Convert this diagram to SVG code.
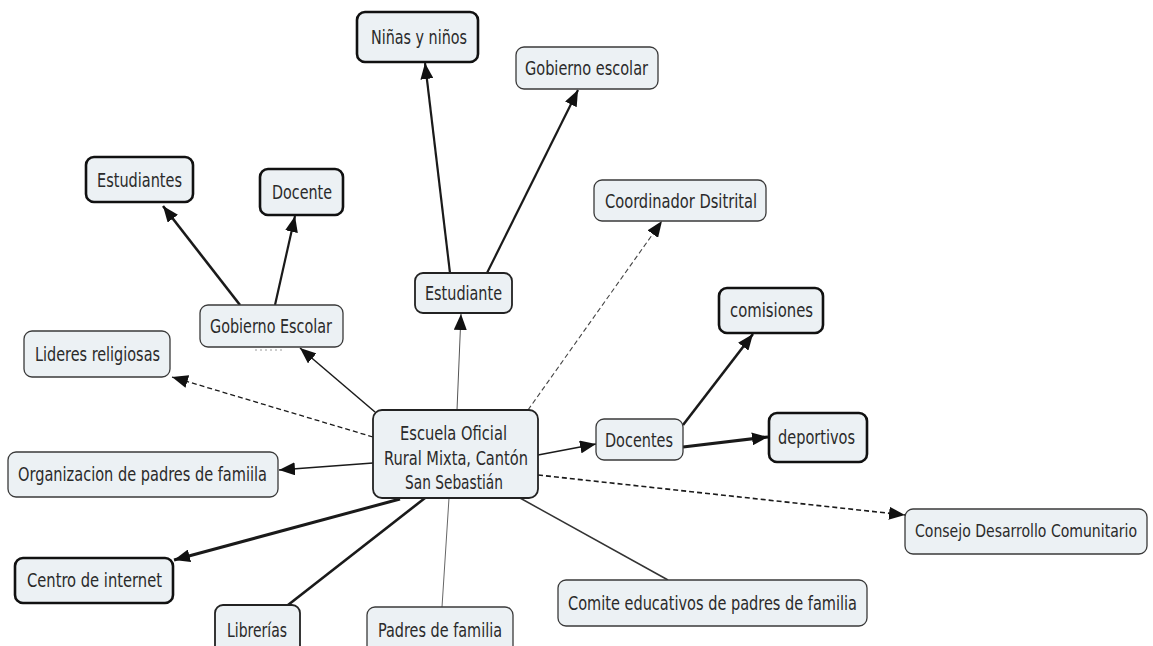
<svg xmlns="http://www.w3.org/2000/svg" width="1153" height="646" viewBox="0 0 1153 646">
<style>
.n rect{fill:#ecf1f4;stroke:#3a3a3a;stroke-width:1.3}
.n.t rect{stroke:#111;stroke-width:2.6}
.n.m rect{stroke:#222;stroke-width:1.8}
.n text{font-family:"DejaVu Sans Condensed","DejaVu Sans","Liberation Sans",sans-serif;font-size:19.5px;fill:#2a2a2a;text-anchor:middle}
.c line{stroke:#1a1a1a;fill:none}
.a{marker-end:url(#ah)}
.d{stroke-dasharray:5,3}
</style>
<defs>
<marker id="ah" markerUnits="userSpaceOnUse" markerWidth="16" markerHeight="13" refX="16" refY="6.5" orient="auto">
<path d="M0,0 L16,6.5 L0,13 z" fill="#111"/>
</marker>
</defs>
<rect width="1153" height="646" fill="#fff"/>
<g id="connectors" class="c">
<line class="a" x1="240" y1="305" x2="163" y2="206" stroke-width="2.6"/>
<line class="a" x1="275" y1="305" x2="295" y2="216" stroke-width="2.2"/>
<line class="a" x1="450" y1="273" x2="425" y2="63" stroke-width="2.2"/>
<line class="a" x1="487" y1="273" x2="578" y2="90" stroke-width="2.2"/>
<line class="a" x1="375" y1="412" x2="300" y2="348" stroke-width="1.5"/>
<line class="a" x1="457" y1="410" x2="461" y2="314" stroke-width="1" style="stroke:#555"/>
<line class="a d" x1="373" y1="437" x2="172" y2="377" stroke-width="1.3"/>
<line class="a d" x1="528" y1="410" x2="662" y2="221" stroke-width="1.1" style="stroke:#444"/>
<line class="a" x1="538" y1="455" x2="596" y2="444" stroke-width="1.6"/>
<line class="a" x1="683" y1="425" x2="753" y2="334" stroke-width="2.6"/>
<line class="a" x1="683" y1="447" x2="768" y2="437" stroke-width="3.2"/>
<line class="a" x1="373" y1="463" x2="279" y2="470" stroke-width="1.6"/>
<line class="a" x1="400" y1="499" x2="174" y2="560" stroke-width="3"/>
<line x1="425" y1="498" x2="288" y2="605" stroke-width="2.6"/>
<line x1="449" y1="498" x2="442" y2="607" stroke-width="1" style="stroke:#666"/>
<line x1="520" y1="498" x2="668" y2="580" stroke-width="1.5" style="stroke:#333"/>
<line class="a d" x1="538" y1="475" x2="905" y2="515" stroke-width="1.6"/>
<line x1="255" y1="350" x2="284" y2="350" stroke-width="1.2" style="stroke:#999;stroke-dasharray:2,3"/>
</g>
<g id="n-ninas" class="n t"><rect x="357" y="12" width="121" height="50" rx="8"/><text x="419" y="44" textLength="96" lengthAdjust="spacingAndGlyphs">Niñas y niños</text></g>
<g id="n-gobierno-escolar-top" class="n"><rect x="516" y="47" width="142" height="42" rx="8"/><text x="586.5" y="75" textLength="123" lengthAdjust="spacingAndGlyphs">Gobierno escolar</text></g>
<g id="n-estudiantes" class="n t"><rect x="86" y="157" width="107" height="45" rx="8"/><text x="139.5" y="187" textLength="85" lengthAdjust="spacingAndGlyphs">Estudiantes</text></g>
<g id="n-docente" class="n t"><rect x="260" y="169" width="83" height="46" rx="8"/><text x="302" y="199" textLength="60" lengthAdjust="spacingAndGlyphs">Docente</text></g>
<g id="n-coordinador" class="n"><rect x="594" y="180" width="172" height="41" rx="8"/><text x="681" y="208" textLength="152" lengthAdjust="spacingAndGlyphs">Coordinador Dsitrital</text></g>
<g id="n-estudiante" class="n m"><rect x="415" y="273" width="97" height="40" rx="8"/><text x="463.5" y="300" textLength="77" lengthAdjust="spacingAndGlyphs">Estudiante</text></g>
<g id="n-gobierno-escolar" class="n"><rect x="200" y="305" width="143" height="42" rx="8"/><text x="271" y="333" textLength="122" lengthAdjust="spacingAndGlyphs">Gobierno Escolar</text></g>
<g id="n-comisiones" class="n t"><rect x="719" y="288" width="104" height="45" rx="8"/><text x="771.5" y="317" textLength="83" lengthAdjust="spacingAndGlyphs">comisiones</text></g>
<g id="n-lideres" class="n"><rect x="24" y="331" width="146" height="46" rx="8"/><text x="97.5" y="361" textLength="125" lengthAdjust="spacingAndGlyphs">Lideres religiosas</text></g>
<g id="n-escuela" class="n m"><rect x="373" y="410" width="165" height="88" rx="9"/>
<text x="453.5" y="440" textLength="107" lengthAdjust="spacingAndGlyphs">Escuela Oficial</text><text x="456" y="465" textLength="144" lengthAdjust="spacingAndGlyphs">Rural Mixta, Cantón</text><text x="454" y="489" textLength="98" lengthAdjust="spacingAndGlyphs">San Sebastián</text></g>
<g id="n-docentes" class="n"><rect x="596" y="419" width="87" height="41" rx="8"/><text x="639" y="447" textLength="68" lengthAdjust="spacingAndGlyphs">Docentes</text></g>
<g id="n-deportivos" class="n t"><rect x="769" y="413" width="98" height="49" rx="8"/><text x="816.5" y="444" textLength="77" lengthAdjust="spacingAndGlyphs">deportivos</text></g>
<g id="n-organizacion" class="n"><rect x="8" y="452" width="270" height="45" rx="8"/><text x="142.5" y="481" textLength="249" lengthAdjust="spacingAndGlyphs">Organizacion de padres de famiila</text></g>
<g id="n-consejo" class="n"><rect x="905" y="509" width="242" height="45" rx="8"/><text x="1026" y="537" style="font-size:17px" textLength="222" lengthAdjust="spacingAndGlyphs">Consejo Desarrollo Comunitario</text></g>
<g id="n-centro" class="n t"><rect x="15" y="558" width="158" height="45" rx="8"/><text x="94.5" y="587" textLength="135" lengthAdjust="spacingAndGlyphs">Centro de internet</text></g>
<g id="n-comite" class="n"><rect x="558" y="580" width="309" height="46" rx="8"/><text x="712.5" y="610" textLength="289" lengthAdjust="spacingAndGlyphs">Comite educativos de padres de familia</text></g>
<g id="n-librerias" class="n m"><rect x="215" y="605" width="85" height="50" rx="8"/><text x="257" y="637" textLength="60" lengthAdjust="spacingAndGlyphs">Librerías</text></g>
<g id="n-padres" class="n"><rect x="367" y="607" width="146" height="48" rx="8"/><text x="440" y="637" textLength="124" lengthAdjust="spacingAndGlyphs">Padres de familia</text></g>
</svg>
